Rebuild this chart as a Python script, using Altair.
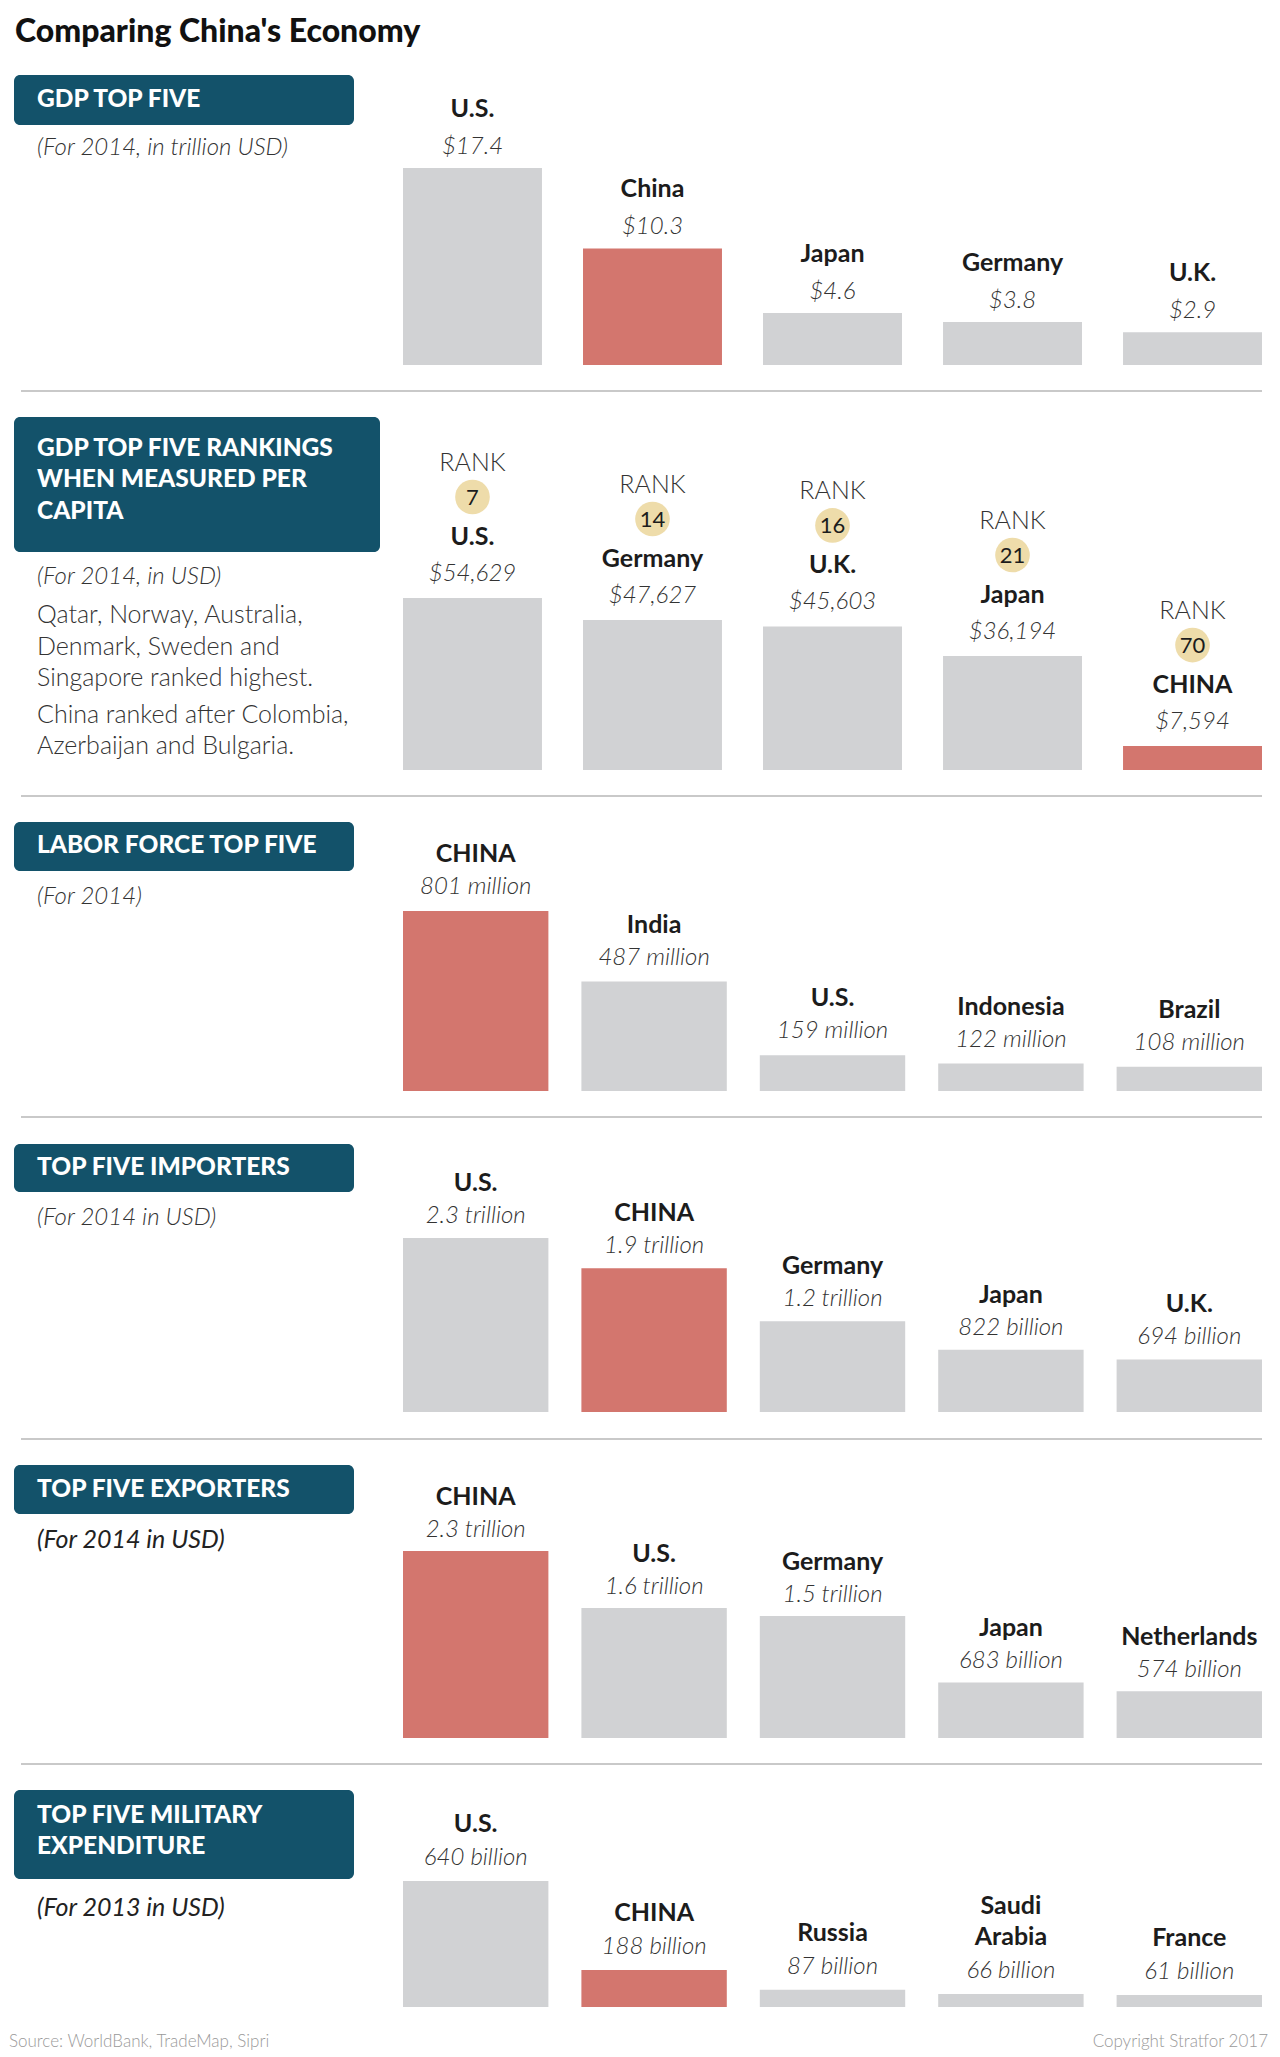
import altair as alt
import pandas as pd

# ---------------- data ----------------
gdp_countries = ["U.S.", "China", "Japan", "Germany", "U.K."]
gdp_values = [17.4, 10.3, 4.6, 3.8, 2.9]            # trillion USD
gdp_labels = ["$17.4", "$10.3", "$4.6", "$3.8", "$2.9"]

percap_countries = ["U.S.", "Germany", "U.K.", "Japan", "CHINA"]
percap_values = [54629, 47627, 45603, 36194, 7594]  # USD per person
percap_labels = ["$54,629", "$47,627", "$45,603", "$36,194", "$7,594"]
percap_ranks = ["7", "14", "16", "21", "70"]

labor_countries = ["CHINA", "India", "U.S.", "Indonesia", "Brazil"]
labor_values = [801, 487, 159, 122, 108]            # million workers
labor_labels = ["801 million", "487 million", "159 million", "122 million", "108 million"]

import_countries = ["U.S.", "CHINA", "Germany", "Japan", "U.K."]
import_values = [2300, 1900, 1200, 822, 694]        # billion USD
import_labels = ["2.3 trillion", "1.9 trillion", "1.2 trillion", "822 billion", "694 billion"]

export_countries = ["CHINA", "U.S.", "Germany", "Japan", "Netherlands"]
export_values = [2300, 1600, 1500, 683, 574]        # billion USD
export_labels = ["2.3 trillion", "1.6 trillion", "1.5 trillion", "683 billion", "574 billion"]

military_countries = ["U.S.", "CHINA", "Russia", "Saudi Arabia", "France"]
military_values = [640, 188, 87, 66, 61]            # billion USD
military_labels = ["640 billion", "188 billion", "87 billion", "66 billion", "61 billion"]

# ---------------- style ----------------
W, H = 1280, 2057
FONT = "Lato"
TEAL = "#13526a"
RED = "#d3766e"
GREY = "#d1d2d4"
GOLD = "#eedcaa"
RULE = "#c9c9c9"
INK = "#1c1c1c"
SOFT = "#333333"
LINE_H = 31

WRAP = {"Saudi Arabia": "Saudi\nArabia"}


def frame(countries, values, labels, ranks=None):
    df = pd.DataFrame({
        "slot": list(range(len(countries))),
        "country": [WRAP.get(c, c) for c in countries],
        "wrapped": [c in WRAP for c in countries],
        "value": values,
        "label": labels,
        "hi": [c.upper() == "CHINA" for c in countries],
    })
    if ranks is not None:
        df["rank"] = ranks
    return df


def section(df, inner, vmax, bottom, top, name_dy, value_dy, ranked=False):
    x = alt.X("slot:O", axis=None,
              scale=alt.Scale(type="band", domain=list(range(5)), range=[403, 1262],
                              paddingInner=inner, paddingOuter=0))
    y = alt.Y("value:Q", axis=None,
              scale=alt.Scale(domain=[0, vmax], range=[bottom, top], nice=False, zero=True))
    base = alt.Chart(df).encode(x=x, y=y)
    bars = base.mark_bar().encode(
        color=alt.condition("datum.hi", alt.value(RED), alt.value(GREY))
    )
    name_style = dict(font=FONT, fontSize=25, fontWeight="bold", color=INK,
                      baseline="bottom", lineBreak="\n", lineHeight=LINE_H)
    names = base.transform_filter("!datum.wrapped").mark_text(
        dy=name_dy, **name_style).encode(text="country:N")
    # two-line names grow upward from the same anchor
    names2 = base.transform_filter("datum.wrapped").mark_text(
        dy=name_dy - LINE_H, **name_style).encode(text="country:N")
    vals = base.mark_text(font=FONT, fontSize=24, fontWeight=300, fontStyle="italic",
                          color=SOFT, baseline="middle", dy=value_dy).encode(text="label:N")
    layers = [bars, names, names2, vals]
    if ranked:
        layers.append(base.mark_text(font=FONT, fontSize=25, fontWeight=300, color=SOFT,
                                     baseline="middle", dy=-135, text="RANK"))
        layers.append(base.mark_circle(size=1200, opacity=1, color=GOLD, yOffset=-101))
        layers.append(base.mark_text(font=FONT, fontSize=22, fontWeight=400, color=INK,
                                     baseline="middle", dy=-100).encode(text="rank:N"))
    return layers


one = pd.DataFrame({"k": [0]})


def note(text, x, y, size, weight=400, style="normal", color=SOFT, align="left"):
    return alt.Chart(one).mark_text(
        text=text, font=FONT, fontSize=size, fontWeight=weight, fontStyle=style,
        color=color, align=align, baseline="middle"
    ).encode(x=alt.value(x), y=alt.value(y))


def box(x1, x2, y1, y2):
    return alt.Chart(one).mark_rect(color=TEAL, cornerRadius=6).encode(
        x=alt.value(x1), x2=alt.value(x2), y=alt.value(y1), y2=alt.value(y2))


def rule(y):
    return alt.Chart(one).mark_rule(color=RULE, strokeWidth=2).encode(
        x=alt.value(21), x2=alt.value(1262), y=alt.value(y))


layers = []

# title
layers.append(note("Comparing China's Economy", 15, 32, 32, 900, color="#111111"))

# section headers and notes
for (x2, y1, y2, lines) in [
    (354, 75, 125, [("GDP TOP FIVE", 100)]),
    (380, 417, 552, [("GDP TOP FIVE RANKINGS", 449), ("WHEN MEASURED PER", 480), ("CAPITA", 512)]),
    (354, 822, 871, [("LABOR FORCE TOP FIVE", 846)]),
    (354, 1144, 1192, [("TOP FIVE IMPORTERS", 1168)]),
    (354, 1465, 1514, [("TOP FIVE EXPORTERS", 1490)]),
    (354, 1790, 1879, [("TOP FIVE MILITARY", 1816), ("EXPENDITURE", 1847)]),
]:
    layers.append(box(14, x2, y1, y2))
    for txt, yy in lines:
        layers.append(note(txt, 37, yy, 24.5, 900, color="white"))

layers.append(note("(For 2014, in trillion USD)", 37, 148, 24, 300, "italic"))
layers.append(note("(For 2014, in USD)", 37, 577, 24, 300, "italic"))
for txt, yy in [("Qatar, Norway, Australia,", 615), ("Denmark, Sweden and", 647),
                ("Singapore ranked highest.", 678), ("China ranked after Colombia,", 715),
                ("Azerbaijan and Bulgaria.", 746)]:
    layers.append(note(txt, 37, yy, 25, 300))
layers.append(note("(For 2014)", 37, 897, 24, 300, "italic"))
layers.append(note("(For 2014 in USD)", 37, 1218, 24, 300, "italic"))
layers.append(note("(For 2014 in USD)", 37, 1540, 25, 400, "italic", color="#222222"))
layers.append(note("(For 2013 in USD)", 37, 1908, 25, 400, "italic", color="#222222"))

# separators
for yy in [391, 796, 1117, 1439, 1764]:
    layers.append(rule(yy))

# bar sections
layers += section(frame(gdp_countries, gdp_values, gdp_labels),
                  0.228, 17.4, 365, 168, -46, -21)
layers += section(frame(percap_countries, percap_values, percap_labels, percap_ranks),
                  0.228, 54629, 770, 598, -48, -24, ranked=True)
layers += section(frame(labor_countries, labor_values, labor_labels),
                  0.185, 801, 1091, 911, -44, -24)
layers += section(frame(import_countries, import_values, import_labels),
                  0.185, 2300, 1412, 1238, -42, -22)
layers += section(frame(export_countries, export_values, export_labels),
                  0.185, 2300, 1738, 1551, -41, -21)
layers += section(frame(military_countries, military_values, military_labels),
                  0.185, 640, 2007, 1881, -44, -23)

# footer
layers.append(note("Source: WorldBank, TradeMap, Sipri", 9, 2042, 17, 300, color="#9a9a9a"))
layers.append(note("Copyright Stratfor 2017", 1268, 2042, 17, 300, color="#9a9a9a", align="right"))

chart = alt.layer(*layers).resolve_scale(
    x="independent", y="independent", color="independent"
).properties(
    width=W, height=H, padding=0,
    autosize=alt.AutoSizeParams(type="none"),
    background="white",
).configure_view(stroke=None)

chart.save("out.html", embed_options={"renderer": "svg", "actions": False})
